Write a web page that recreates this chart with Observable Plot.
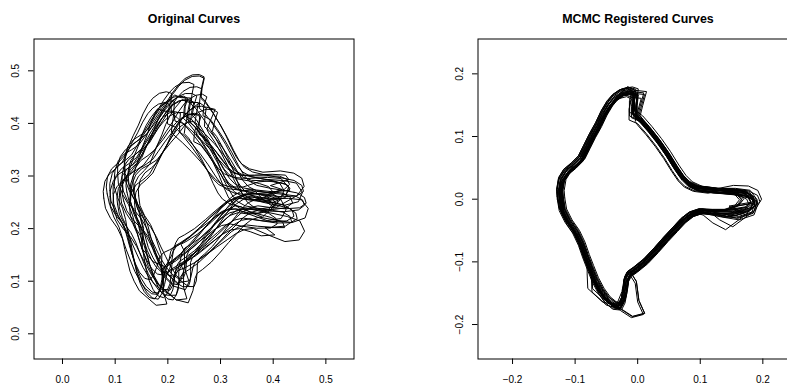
<!DOCTYPE html>
<html><head><meta charset="utf-8">
<script src="https://cdn.jsdelivr.net/npm/d3@7"></script>
<script src="https://cdn.jsdelivr.net/npm/@observablehq/plot@0.6"></script>
<style>
html,body{margin:0;padding:0;background:#fff;overflow:hidden;width:787px;height:389px}
#wrap{position:relative;width:787px;height:389px;overflow:hidden}
#left,#right{position:absolute;top:0}
#left{left:0}
#right{left:394px}
svg{font-family:"Liberation Sans",Arial,Helvetica,sans-serif;overflow:hidden}
</style></head><body><div id="wrap"><div id="left"></div><div id="right"></div></div>
<script>
// ---- Titles and tick labels ----
const titleLeft = "Original Curves";
const titleRight = "MCMC Registered Curves";
const ticksLeftX = [0.0, 0.1, 0.2, 0.3, 0.4, 0.5];
const ticksLeftY = [0.0, 0.1, 0.2, 0.3, 0.4, 0.5];
const ticksRightX = [-0.2, -0.1, 0.0, 0.1, 0.2];
const ticksRightY = [-0.2, -0.1, 0.0, 0.1, 0.2];

// ---- Registered outline, in segments (clockwise) ----
const leftUp = [[-0.123,0.000],[-0.124,0.012],[-0.121,0.030],[-0.113,0.043],[-0.101,0.053],[-0.090,0.064],[-0.082,0.080],[-0.073,0.098],[-0.063,0.116],[-0.054,0.135],[-0.045,0.150]];
const topVariants = [
  [[-0.036,0.161],[-0.024,0.169],[-0.012,0.171],[-0.003,0.168],[-0.005,0.150],[-0.005,0.133]],
  [[-0.034,0.164],[-0.020,0.178],[-0.008,0.172],[0.010,0.170],[0.004,0.148],[0.000,0.132]],
  [[-0.036,0.160],[-0.026,0.167],[-0.014,0.170],[-0.006,0.166],[-0.010,0.150],[-0.010,0.132]]
];
const rightDiag = [[0.004,0.126],[0.018,0.110],[0.033,0.091],[0.047,0.071],[0.060,0.050],[0.071,0.034],[0.081,0.024],[0.096,0.017],[0.120,0.014]];
const tailVariants = [
  [[0.148,0.012],[0.168,0.010],[0.182,0.003],[0.186,-0.007],[0.175,-0.016],[0.150,-0.020],[0.122,-0.020]],
  [[0.150,0.020],[0.174,0.019],[0.189,0.012],[0.195,-0.002],[0.184,-0.020],[0.149,-0.046],[0.128,-0.035],[0.112,-0.022]],
  [[0.140,0.010],[0.158,0.005],[0.166,-0.004],[0.158,-0.014],[0.138,-0.021],[0.120,-0.022]],
  [[0.152,0.011],[0.176,0.006],[0.181,-0.003],[0.146,-0.009],[0.166,-0.019],[0.142,-0.025],[0.121,-0.021]],
  [[0.155,0.014],[0.178,0.011],[0.190,-0.005],[0.184,-0.022],[0.160,-0.030],[0.130,-0.025]]
];
const lowerDiag = [[0.101,-0.019],[0.086,-0.024],[0.073,-0.034],[0.060,-0.048],[0.045,-0.064],[0.030,-0.081],[0.013,-0.099],[-0.003,-0.112],[-0.013,-0.119]];
const bottomVariants = [
  [[-0.018,-0.128],[-0.020,-0.145],[-0.023,-0.161],[-0.028,-0.171],[-0.038,-0.170],[-0.049,-0.161],[-0.059,-0.147],[-0.068,-0.130]],
  [[-0.006,-0.130],[-0.002,-0.160],[0.007,-0.180],[-0.012,-0.185],[-0.029,-0.174],[-0.046,-0.163],[-0.058,-0.147],[-0.068,-0.130]],
  [[-0.017,-0.128],[-0.021,-0.150],[-0.030,-0.172],[-0.052,-0.166],[-0.075,-0.145],[-0.076,-0.122]]
];
const lowerLeft = [[-0.076,-0.110],[-0.083,-0.092],[-0.090,-0.072],[-0.099,-0.053],[-0.111,-0.036],[-0.120,-0.018]];

// ---- Per-curve values (24 curves) ----
const topVariant    = [0,0,1,0,2,0,0,2,0,1,0,0,2,0,0,0,2,0,1,0,0,1,0,2];
const tailVariant   = [0,4,0,2,0,1,3,0,4,0,2,0,3,0,4,0,0,3,2,4,0,1,4,2];
const bottomVariant = [0,0,1,0,0,2,0,0,0,0,0,2,0,0,0,1,0,0,0,0,1,0,2,0];
// residual offsets after registration
const regDx    = [0.002,-0.003,0.004,0,-0.004,0.003,-0.001,0.003,-0.003,0.001,0.004,-0.004,0,0.003,-0.002,0.002,-0.003,0.003,0,-0.002,0.004,-0.004,0.002,-0.003];
const regDy    = [-0.002,0.003,0,0.004,-0.003,0.002,-0.004,0.003,0,-0.003,0.002,0.004,-0.002,0,0.003,-0.004,0.002,-0.003,0.003,0,0.003,-0.004,-0.003,0.004];
const regScale = [1.0,0.99,1.01,1.02,0.98,1.0,1.01,0.99,1.02,1.0,0.98,1.01,1.0,0.99,1.02,1.0,0.99,1.01,0.98,1.0,1.03,0.97,1.0,1.02];
// pose of each original curve
const origX     = [0.240,0.220,0.255,0.230,0.265,0.250,0.235,0.210,0.260,0.245,0.225,0.270,0.243,0.233,0.255,0.217,0.250,0.237,0.263,0.227,0.253,0.223,0.267,0.235];
const origY     = [0.263,0.273,0.253,0.248,0.273,0.308,0.238,0.258,0.243,0.278,0.263,0.258,0.270,0.253,0.288,0.243,0.233,0.293,0.266,0.276,0.300,0.250,0.240,0.283];
const origAngle = [-2,3,-8,1,-5,-7,-10,0,-12,4,-4,-2,8,-6,-4,-8,-4,-5,5,-10,-6,7,1,-3];
const origScale = [1.06,1.10,1.04,1.02,1.07,1.08,1.05,1.07,1.08,1.00,1.10,1.02,1.04,1.12,1.06,1.04,1.00,1.08,1.02,1.06,1.11,1.02,1.05,0.99];

function outline(i) {
  return [...leftUp, ...topVariants[topVariant[i]], ...rightDiag, ...tailVariants[tailVariant[i]],
          ...lowerDiag, ...bottomVariants[bottomVariant[i]], ...lowerLeft, leftUp[0]];
}
const registered = [], original = [];
for (let i = 0; i < topVariant.length; i++) {
  const a = origAngle[i] * Math.PI / 180, c = Math.cos(a), s = Math.sin(a);
  for (const [x, y] of outline(i)) {
    registered.push({id: i, x: x * regScale[i] + regDx[i], y: y * regScale[i] + regDy[i]});
    original.push({id: i, x: origX[i] + origScale[i] * (c * x - s * y), y: origY[i] + origScale[i] * (s * x + c * y)});
  }
}

const fmt = d3.format(".1f");
function panel({rows, title, xDomain, yDomain, xTicks, yTicks, width, marginLeft, marginRight}) {
  return Plot.plot({
    width, height: 389,
    marginTop: 38.5, marginBottom: 30.5, marginLeft, marginRight,
    x: {domain: xDomain, label: null}, y: {domain: yDomain, label: null},
    style: {fontFamily: '"Liberation Sans", Arial, Helvetica, sans-serif', fontSize: "10px", background: "white", color: "black", overflow: "hidden"},
    marks: [
      Plot.line(rows, {x: "x", y: "y", z: "id", stroke: "black", strokeWidth: 1, curve: "linear"}),
      Plot.frame({stroke: "black", strokeWidth: 1}),
      Plot.axisX(xTicks, {label: null, tickSize: 5.5, tickPadding: 11.4, tickFormat: fmt, fontSize: 10}),
      Plot.axisY(yTicks, {label: null, tickSize: 5.5, tickPadding: 9.2, tickRotate: -90, tickFormat: fmt, fontSize: 10}),
      Plot.text([title], {text: d => d, frameAnchor: "top", dy: -24.7, fontWeight: "bold", fontSize: 12.4})
    ]
  });
}

document.getElementById("left").append(panel({
  rows: original, title: titleLeft,
  xDomain: [-0.0541, 0.5534], yDomain: [-0.0479, 0.5605],
  xTicks: ticksLeftX, yTicks: ticksLeftY,
  width: 394, marginLeft: 33.5, marginRight: 40.5
}));
document.getElementById("right").append(panel({
  rows: registered, title: titleRight,
  xDomain: [-0.2552, 0.2562], yDomain: [-0.2550, 0.2556],
  xTicks: ticksRightX, yTicks: ticksRightY,
  width: 393, marginLeft: 83.5, marginRight: -10.5
}));
</script></body></html>
